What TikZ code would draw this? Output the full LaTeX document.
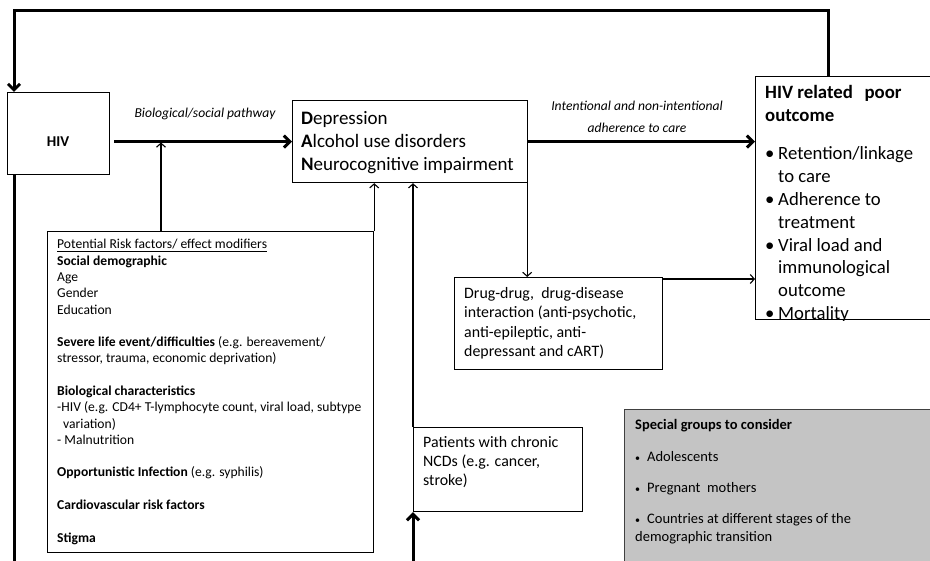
\documentclass[tikz,border=0pt]{standalone}
\usepackage{fontspec}
\setmainfont{Carlito}
\usetikzlibrary{arrows.meta}
\newcommand\mylines[1]{\begin{tabular}[t]{@{}l@{}}#1\end{tabular}}
\newcommand\mylinesc[1]{\begin{tabular}[t]{@{}c@{}}#1\end{tabular}}
\newcommand\fsz[2]{\fontsize{#1}{#2}\selectfont}
\definecolor{specgray}{RGB}{196,196,196}
\begin{document}
\begin{tikzpicture}[x=1pt,y=-1pt,
  box/.style={draw=black,line width=1.2pt,inner sep=0pt,anchor=north west},
  thk/.style={line width=3pt,-{Straight Barb[length=6pt,width=12pt]}},
  thn/.style={line width=1.1pt,-{Straight Barb[length=4pt,width=9pt]}},
  txt/.style={inner sep=0pt,anchor=base west}]
\useasboundingbox (0,0) rectangle (930,561);
\clip (0,0) rectangle (930,561);
% boxes
\node[box,minimum width=102pt,minimum height=82pt] (hiv) at (7,92) {};
\node[box,minimum width=235pt,minimum height=82pt] (dan) at (292,100) {};
\node[box,minimum width=180pt,minimum height=243pt] (out) at (755,76) {};
\node[box,minimum width=326pt,minimum height=321pt] (risk) at (47,231) {};
\node[box,minimum width=208pt,minimum height=92pt] (drug) at (454,277) {};
\node[box,minimum width=169pt,minimum height=84pt] (ncd) at (413,427) {};
\node[box,draw=black!75,fill=specgray,minimum width=320pt,minimum height=160pt] (spec) at (624,409) {};
% texts
\node[inner sep=0pt,font=\fsz{15}{18}\bfseries] (hivt) at (58,142) {HIV};
\node[inner sep=0pt,font=\fsz{13.6}{16}\itshape] (biol) at (205,114) {Biological/social pathway};
\node[txt,font=\fsz{19}{23}] (dant) at (301,125) {\mylines{\textbf{D}epression\\\textbf{A}lcohol use disorders\\\textbf{N}eurocognitive impairment}};
\node[inner sep=0pt,anchor=base,font=\fsz{13.6}{22}\itshape] (intl) at (637,111) {\mylinesc{Intentional and non-intentional\\adherence to care}};
\node[txt,font=\fsz{18.8}{23}\bfseries] (outt) at (765,99) {\mylines{HIV related\ \ \,poor\\outcome}};
\begin{scope}
\clip (out.north west) rectangle (out.south east);
\node[txt,font=\fsz{18.7}{22.8}] (outl) at (765,160) {\mylines{\makebox[13pt][l]{•}Retention/linkage\\\hspace*{13pt}to care\\\makebox[13pt][l]{•}Adherence to\\\hspace*{13pt}treatment\\\makebox[13pt][l]{•}Viral load and\\\hspace*{13pt}immunological\\\hspace*{13pt}outcome\\\makebox[13pt][l]{•}Mortality}};
\end{scope}
\node[txt,font=\fsz{13.6}{16.28}] (riskt) at (57,249) {\mylines{\underline{Potential Risk factors/ effect modifiers}\\
\textbf{Social demographic}\\
Age\\
Gender\\
Education\\
\\
\textbf{Severe life event/difficulties} (e.g. bereavement/\\
stressor, trauma, economic deprivation)\\
\\
\textbf{Biological characteristics}\\
-HIV (e.g. CD4+ T-lymphocyte count, viral load, subtype\\
\hspace*{6pt}variation)\\
- Malnutrition\\
\\
\textbf{Opportunistic Infection} (e.g. syphilis)\\
\\
\textbf{Cardiovascular risk factors}\\
\\
\textbf{Stigma}}};
\node[txt,font=\fsz{15.9}{19.4}] (drugt) at (464,298.5) {\mylines{Drug-drug,\ \ drug-disease\\interaction (anti-psychotic,\\anti-epileptic, anti-\\depressant and cART)}};
\node[txt,font=\fsz{15.9}{19}] (ncdt) at (423,447.5) {\mylines{Patients with chronic\\NCDs (e.g. cancer,\\stroke)}};
\node[txt,font=\fsz{14.5}{17.7}] (spect) at (635,430) {\mylines{\textbf{Special groups to consider}\\[13.5pt]
\makebox[12pt][l]{\fsz{10}{10}•}Adolescents\\[13.5pt]
\makebox[12pt][l]{\fsz{10}{10}•}Pregnant\ \ mothers\\[13.5pt]
\makebox[12pt][l]{\fsz{10}{10}•}Countries at different stages of the\\
demographic transition}};
% connectors
\coordinate (fbR) at (828,11);
\coordinate (fbL) at (14,11);
\coordinate (bot) at (14,590);
\coordinate (j1) at (161,142.5);
\draw[thk] (fbR |- out.north) -- (fbR) -- (fbL) -- (fbL |- hiv.north);
\draw[thk] ([xshift=4pt]hiv.east |- dan.west) -- (dan.west);
\draw[thk] (dan.east) -- (out.west |- dan.east);
\draw[thn] (j1 |- risk.north) -- (j1);
\draw[thn] (risk.north east) -- (risk.north east |- dan.south);
\draw[thn] (ncd.north west) -- (ncd.north west |- dan.south);
\draw[thn] ([xshift=-1pt]dan.south east) -- ([xshift=-1pt]dan.south east |- drug.north);
\draw[thn] ([yshift=-2pt]drug.north east) -- ([yshift=-2pt]drug.north east -| out.west);
\draw[thk] (fbL |- hiv.south) -- (bot) -| (ncd.south west);
\end{tikzpicture}
\end{document}
